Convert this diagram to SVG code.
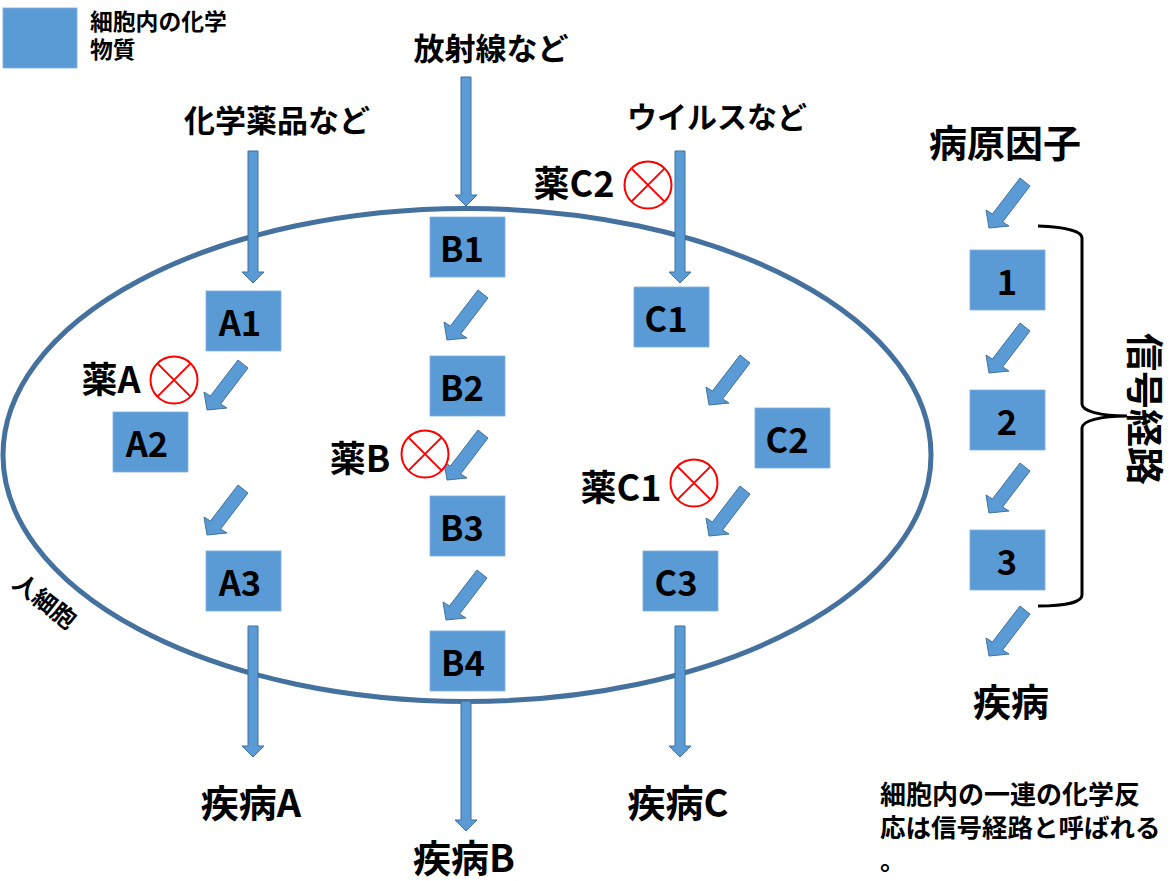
<svg xmlns="http://www.w3.org/2000/svg" xmlns:xlink="http://www.w3.org/1999/xlink" width="1176" height="881" viewBox="0 0 1176 881">
<style>
text{font-family:"Noto Sans CJK JP","Noto Sans",sans-serif;fill:#000}
.box{fill:#5b9bd5;stroke:#7fb0de;stroke-width:.8}
.arrow{fill:#5b9bd5;stroke:#41719c;stroke-width:1}
.cap{font-size:31px;font-weight:700;text-anchor:middle}
.big{font-size:38px;font-weight:700;text-anchor:middle}
.med{font-size:36px;font-weight:700;text-anchor:middle}
.id{font-size:34.500px;font-weight:700;text-anchor:middle}
.note{font-size:25.500px;font-weight:700}
.leg{font-size:22.800px;font-weight:700}
.no{fill:#fff;stroke:#f00;stroke-width:2}
</style>
<defs>
<path id="diag" d="M0,0L-3,-18L3.400,-14L31,-50L41,-42L13.600,-6L20,-2Z"/>
<g id="ban"><circle r="23.500"/><path d="M-16.600,-16.600L16.600,16.600M16.600,-16.600L-16.600,16.600" fill="none"/></g>
</defs>
<rect width="1176" height="881" fill="#fff"/>
<g id="cell"><ellipse cx="467" cy="455" rx="464" ry="246.500" fill="none" stroke="#44719e" stroke-width="5"/>
<text transform="translate(11,586) rotate(38)" font-size="24" font-weight="700">人細胞</text></g>
<g id="legend"><rect class="box" x="3" y="8" width="74" height="60"/><text class="leg"><tspan x="90" y="30">細胞内の化学</tspan><tspan x="90" y="58">物質</tspan></text></g>
<g id="connectors">
<path class="arrow" d="M248,151H258V272H264L253,283L242,272H248Z"/>
<path class="arrow" d="M248,626H258V746H264L253,757L242,746H248Z"/>
<path class="arrow" d="M461,77H471V195H477L466,206L455,195H461Z"/>
<path class="arrow" d="M461,701H471V820H477L466,831L455,820H461Z"/>
<path class="arrow" d="M675,151H685V272H691L680,283L669,272H675Z"/>
<path class="arrow" d="M675,626H685V746H691L680,757L669,746H675Z"/>
<use class="arrow" href="#diag" x="207" y="410"/>
<use class="arrow" href="#diag" x="207" y="535"/>
<use class="arrow" href="#diag" x="447" y="340"/>
<use class="arrow" href="#diag" x="447" y="480"/>
<use class="arrow" href="#diag" x="446" y="620"/>
<use class="arrow" href="#diag" x="709" y="405"/>
<use class="arrow" href="#diag" x="709" y="536"/>
<use class="arrow" href="#diag" x="989" y="228"/>
<use class="arrow" href="#diag" x="989" y="373"/>
<use class="arrow" href="#diag" x="989" y="513"/>
<use class="arrow" href="#diag" x="989" y="656"/>
</g>
<g id="A1"><rect class="box" x="206" y="291" width="75" height="60"/><text class="id" x="240" y="336">A1</text></g>
<g id="A2"><rect class="box" x="113" y="412" width="75" height="60"/><text class="id" x="147" y="457">A2</text></g>
<g id="A3"><rect class="box" x="206" y="551" width="75" height="60"/><text class="id" x="240" y="596">A3</text></g>
<g id="B1"><rect class="box" x="430" y="217" width="75" height="60"/><text class="id" x="462" y="262">B1</text></g>
<g id="B2"><rect class="box" x="430" y="356" width="75" height="60"/><text class="id" x="462" y="401">B2</text></g>
<g id="B3"><rect class="box" x="430" y="496" width="75" height="60"/><text class="id" x="462" y="541">B3</text></g>
<g id="B4"><rect class="box" x="430" y="631" width="75" height="60"/><text class="id" x="463" y="676">B4</text></g>
<g id="C1"><rect class="box" x="634" y="287" width="75" height="60"/><text class="id" x="666" y="332">C1</text></g>
<g id="C2"><rect class="box" x="755" y="408" width="75" height="60"/><text class="id" x="787" y="453">C2</text></g>
<g id="C3"><rect class="box" x="643" y="551" width="75" height="60"/><text class="id" x="676" y="596">C3</text></g>
<g id="S1"><rect class="box" x="970" y="250" width="75" height="60"/><text class="id" x="1007" y="295">1</text></g>
<g id="S2"><rect class="box" x="970" y="390" width="75" height="60"/><text class="id" x="1007" y="435">2</text></g>
<g id="S3"><rect class="box" x="970" y="530" width="75" height="60"/><text class="id" x="1007" y="575">3</text></g>
<g id="labels">
<text class="cap" x="277" y="132">化学薬品など</text>
<text class="cap" x="491" y="60">放射線など</text>
<text class="cap" x="717" y="128" style="font-size:30px">ウイルスなど</text>
<text class="big" x="1005" y="157">病原因子</text>
<text class="big" x="1011" y="716">疾病</text>
<text class="big" x="251" y="817">疾病A</text>
<text class="big" x="464" y="872">疾病B</text>
<text class="big" x="678" y="817">疾病C</text>
<text class="med" x="111" y="393">薬A</text>
<text class="med" x="360" y="472">薬B</text>
<text class="med" x="574" y="197">薬C2</text>
<text class="med" x="621" y="501">薬C1</text>
<text transform="translate(1131,333) rotate(90)" font-size="38" font-weight="700">信号経路</text>
<text class="note" x="880" y="804" style="font-size:26px">細胞内の一連の化学反</text>
<text class="note" x="880" y="837">応は信号経路と呼ばれる</text>
<text class="note" x="880" y="870">。</text>
</g>
<g id="brace"><path d="M1038,226C1065,227 1082,231 1082,238V404C1082,411 1100,416 1127,416C1100,416 1082,421 1082,428V595C1082,602 1065,606 1038,606" fill="none" stroke="#000" stroke-width="3"/></g>
<use id="ban-A" class="no" href="#ban" x="174" y="380"/>
<use id="ban-B" class="no" href="#ban" x="425" y="454"/>
<use id="ban-C1" class="no" href="#ban" x="694" y="483"/>
<use id="ban-C2" class="no" href="#ban" x="648" y="185"/>
</svg>
